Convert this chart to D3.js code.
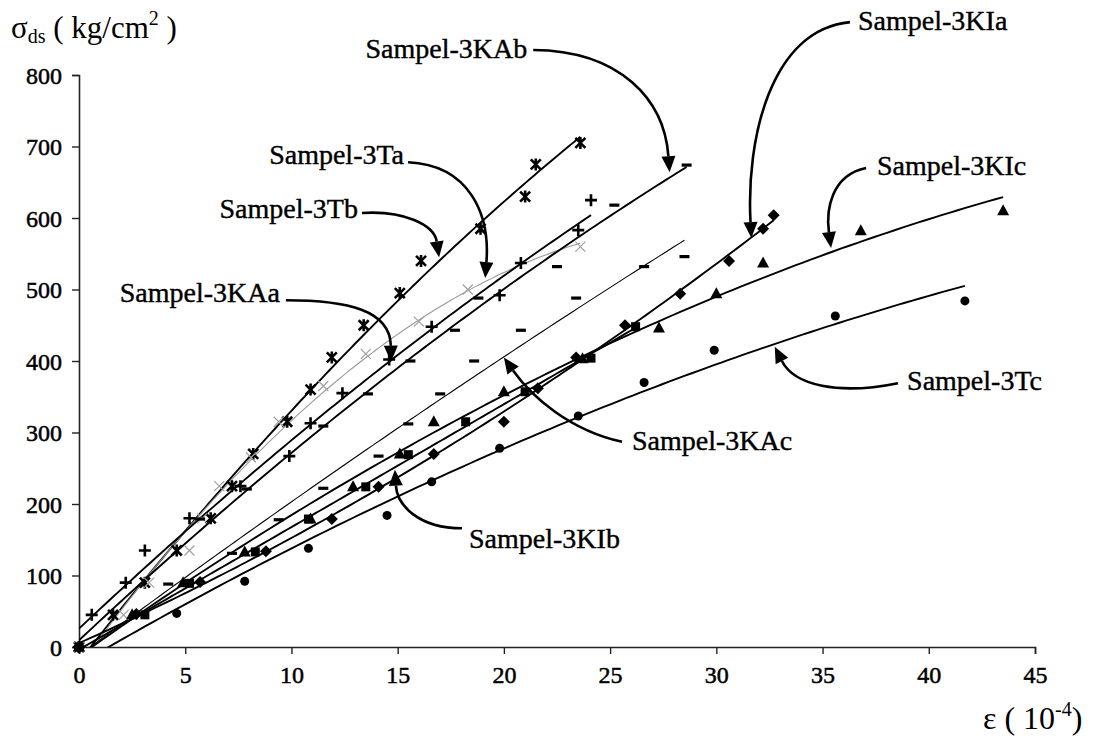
<!DOCTYPE html>
<html><head><meta charset="utf-8">
<script src="https://cdn.jsdelivr.net/npm/d3@7"></script>
<style>
body{margin:0;background:#fff}
svg{display:block}
</style>
</head><body>
<svg id="c" width="1096" height="743"></svg>
<script>
// ---------- data ----------
const xTicks = [0,5,10,15,20,25,30,35,40,45];
const yTicks = [0,100,200,300,400,500,600,700,800];

const s3Tb_x  = [0,1.6,3.1,4.6,6.2,7.2,8.2,9.8,10.9,11.9,13.4,15.1,16.1,18.9,21.0,21.5,23.6];
const s3Tb_y  = [0,45,90,135,180,225,270,315,360,405,450,495,540,585,630,675,705];
const s3Ta_x  = [0,2.1,3.3,5.2,5.8,6.6,8.1,9.4,11.5,13.5,16.0,18.3,23.6];
const s3Ta_y  = [0,45,90,135,180,225,265,315,365,410,455,500,560];
const s3KAa_x = [0,0.6,2.2,3.1,5.2,7.6,9.9,10.9,12.4,14.6,16.6,19.8,20.8,23.5,24.1];
const s3KAa_y = [0,45,90,135,180,225,267,313,355,402,448,492,537,583,625];
const s3KAb_x = [0,5.7,7.9,11.5,13.6,15.6,17.7,18.8,22.5,25.2,28.6];
const s3KAb_y = [0,179,221,309,354,400,443,488,532,618,674];
const s3KAc_x = [0,4.2,7.2,9.4,11.5,14.1,15.5,17.0,18.6,20.8,23.4,26.6,28.5];
const s3KAc_y = [0,88,131,178,222,267,312,354,400,443,488,532,546];
const s3KIa_x = [0,2.7,5.7,8.8,11.9,14.1,16.7,20.0,21.6,23.4,25.7,28.3,30.6,32.2,32.7];
const s3KIa_y = [0,46,91,134,179,224,270,315,362,405,450,494,540,585,604];
const s3KIb_x = [0,3.1,5.2,8.3,10.8,13.5,15.5,18.2,21.0,24.1,26.2];
const s3KIb_y = [0,45,89,133,179,224,269,315,357,404,448];
const s3KIc_x = [0,2.5,4.9,7.8,10.9,12.9,15.1,16.7,20.0,23.7,27.3,30.0,32.2,36.8,43.5];
const s3KIc_y = [0,45,90,133,179,224,270,315,357,403,446,494,537,582,610];
const s3Tc_x  = [0,4.6,7.8,10.8,14.5,16.6,19.8,23.5,26.6,29.9,35.6,41.7];
const s3Tc_y  = [0,47,92,138,184,231,278,323,370,415,463,484];

const seriesNames = ["Sampel-3Tb","Sampel-3Ta","Sampel-3KAa","Sampel-3KAb","Sampel-3KAc","Sampel-3KIa","Sampel-3KIb","Sampel-3KIc","Sampel-3Tc"];
const seriesX = [s3Tb_x,s3Ta_x,s3KAa_x,s3KAb_x,s3KAc_x,s3KIa_x,s3KIb_x,s3KIc_x,s3Tc_x];
const seriesY = [s3Tb_y,s3Ta_y,s3KAa_y,s3KAb_y,s3KAc_y,s3KIa_y,s3KIb_y,s3KIc_y,s3Tc_y];

// annotation labels (data-unit anchors) and arrow curves [start, c1, c2, tip]
const labelTexts  = ["Sampel-3KAb","Sampel-3KIa","Sampel-3KIc","Sampel-3Tc","Sampel-3KAc","Sampel-3KIb","Sampel-3Tb","Sampel-3Ta","Sampel-3KAa"];
const labelAnchor = ["end","start","start","start","start","start","end","end","end"];
const labelAt = [[21.10,824],[36.67,863],[37.56,660],[38.98,359],[26.03,276],[18.36,138],[13.13,600],[15.30,676],[9.46,483]];
const arrowCurves = [
  [[21.38,835],[25.50,834],[27.55,765],[27.80,664]],
  [[36.29,874],[32.53,863],[31.40,709],[31.65,572]],
  [[37.05,670],[35.40,660],[35.16,611],[35.40,558]],
  [[38.55,369],[35.73,352],[33.66,366],[32.75,420]],
  [[25.56,287],[23.11,303],[21.30,350],[20.00,405]],
  [[18.03,166],[15.96,166],[14.97,199],[14.87,248]],
  [[13.32,607],[15.30,611],[16.72,590],[16.95,545]],
  [[15.49,678],[18.41,674],[19.35,604],[19.12,516]],
  [[9.74,485],[12.66,485],[14.65,471],[14.69,399]]
];

// ---------- styles ----------
const FONT = "'Liberation Serif', Tinos, 'Times New Roman', Times, serif";
const markerKind = ["star","x","plus","dash","dash","diamond","square","triangle","circle"];
const lineColor  = ["#000","#9a9a9a","#000","#000","#000","#000","#000","#000","#000"];
const lineWidth  = [1.9,1.1,1.9,1.9,1.1,1.9,1.9,1.9,1.9];

// ---------- scales ----------
const svg = d3.select("#c");
const x = d3.scaleLinear().domain([0,45]).range([79,1035]);
const y = d3.scaleLinear().domain([0,800]).range([647,75]);

svg.append("defs").append("clipPath").attr("id","plot")
  .append("rect").attr("x",x(0)).attr("y",y(800)).attr("width",x(45)-x(0)).attr("height",y(0)-y(800));

// axes
const xAxis = svg.append("g").attr("transform",`translate(0,${y(0)})`)
  .call(d3.axisBottom(x).tickValues(xTicks).tickSize(7).tickPadding(12).tickFormat(d3.format("d")));
const yAxis = svg.append("g").attr("transform",`translate(${x(0)},0)`)
  .call(d3.axisLeft(y).tickValues(yTicks).tickSize(7).tickPadding(10).tickFormat(d3.format("d")));
[xAxis,yAxis].forEach(a=>{
  a.attr("font-family",null);
  a.select(".domain").attr("stroke","#222").attr("stroke-width",1.6);
  a.selectAll(".tick line").attr("stroke","#222").attr("stroke-width",1.4);
  a.selectAll(".tick text").style("font-family",FONT).style("font-size","24px")
    .attr("fill","#000").attr("stroke","#000").attr("stroke-width",0.5);
});
yAxis.selectAll(".tick text").attr("dy","0.35em");

// quadratic least squares (trend lines like Excel's polynomial trendline)
function fit2(xs, ys){
  let S=[0,0,0,0,0], T=[0,0,0];
  xs.forEach((v,i)=>{ let p=1; for(let k=0;k<5;k++){S[k]+=p; if(k<3)T[k]+=p*ys[i]; p*=v;} });
  const M=[[S[0],S[1],S[2]],[S[1],S[2],S[3]],[S[2],S[3],S[4]]];
  const det=m=>m[0][0]*(m[1][1]*m[2][2]-m[1][2]*m[2][1])-m[0][1]*(m[1][0]*m[2][2]-m[1][2]*m[2][0])+m[0][2]*(m[1][0]*m[2][1]-m[1][1]*m[2][0]);
  const D=det(M);
  return [0,1,2].map(j=>det(M.map((r,i)=>r.map((c,k)=>k===j?T[i]:c)))/D);
}

const lineGen = d3.line().x(d=>x(d[0])).y(d=>y(d[1]));
const linesG = svg.append("g").attr("clip-path","url(#plot)");
seriesX.forEach((xs,i)=>{
  const c = fit2(xs, seriesY[i]);
  const mx = d3.max(xs);
  const pts = d3.range(0,121).map(k=>{const v=mx*k/120; return [v, c[0]+c[1]*v+c[2]*v*v];});
  linesG.append("path").attr("d",lineGen(pts)).attr("fill","none")
    .attr("stroke",lineColor[i]).attr("stroke-width",lineWidth[i]);
});

// markers
function drawMarker(g, kind){
  switch(kind){
    case "diamond": g.append("path").attr("d","M0,-6L6,0L0,6L-6,0Z").attr("fill","#000"); break;
    case "square": g.append("rect").attr("x",-4.5).attr("y",-4.5).attr("width",9).attr("height",9).attr("fill","#000"); break;
    case "triangle": g.append("path").attr("d","M0,-6.5L6,4.5L-6,4.5Z").attr("fill","#000"); break;
    case "circle": g.append("circle").attr("r",4.5).attr("fill","#000"); break;
    case "star": g.append("path").attr("d","M-5,-5L5,5M-5,5L5,-5M0,-6L0,6").attr("stroke","#000").attr("stroke-width",2.6); break;
    case "x": g.append("path").attr("d","M-5,-5L5,5M-5,5L5,-5").attr("stroke","#a0a0a0").attr("stroke-width",1.2); break;
    case "plus": g.append("path").attr("d","M-6,0L6,0M0,-6L0,6").attr("stroke","#000").attr("stroke-width",2.6); break;
    case "dash": g.append("rect").attr("x",-5).attr("y",-1.6).attr("width",10).attr("height",3.2).attr("fill","#000"); break;
  }
}
const markG = svg.append("g");
seriesX.forEach((xs,i)=>{
  xs.forEach((v,j)=>{
    const g = markG.append("g").attr("transform",`translate(${x(v)},${y(seriesY[i][j])})`);
    drawMarker(g, markerKind[i]);
  });
});

// annotations
const annG = svg.append("g");
labelTexts.forEach((t,i)=>{
  annG.append("text").attr("x",x(labelAt[i][0])).attr("y",y(labelAt[i][1]))
    .attr("text-anchor",labelAnchor[i])
    .style("font-family",FONT).style("font-size","28px")
    .attr("stroke","#000").attr("stroke-width",0.4).text(t);
  const P = arrowCurves[i].map(p=>[x(p[0]),y(p[1])]);
  const tip=P[3], c2=P[2];
  const dx=tip[0]-c2[0], dy=tip[1]-c2[1], L=Math.hypot(dx,dy), ux=dx/L, uy=dy/L;
  const hl=16, hw=7;
  const base=[tip[0]-ux*hl, tip[1]-uy*hl];
  annG.append("path")
    .attr("d",`M${P[0][0]},${P[0][1]}C${P[1][0]},${P[1][1]} ${P[2][0]},${P[2][1]} ${base[0]},${base[1]}`)
    .attr("fill","none").attr("stroke","#000").attr("stroke-width",2.6);
  annG.append("path")
    .attr("d",`M${tip[0]},${tip[1]}L${base[0]-uy*hw},${base[1]+ux*hw}L${base[0]+uy*hw},${base[1]-ux*hw}Z`)
    .attr("fill","#000");
});

// axis titles
const yt = svg.append("text").attr("x",11).attr("y",38).style("font-family",FONT).style("font-size","31px");
yt.append("tspan").text("σ");
yt.append("tspan").style("font-size","20px").attr("dy",5).text("ds");
yt.append("tspan").attr("dy",-5).text(" ( kg/cm");
yt.append("tspan").style("font-size","20px").attr("dy",-13).text("2");
yt.append("tspan").attr("dy",13).text(" )");

const xt = svg.append("text").attr("x",983).attr("y",729).style("font-family",FONT).style("font-size","32px");
xt.append("tspan").text("ε ( 10");
xt.append("tspan").style("font-size","20px").attr("dy",-13).text("-4");
xt.append("tspan").attr("dy",13).text(")");
</script>
</body></html>
